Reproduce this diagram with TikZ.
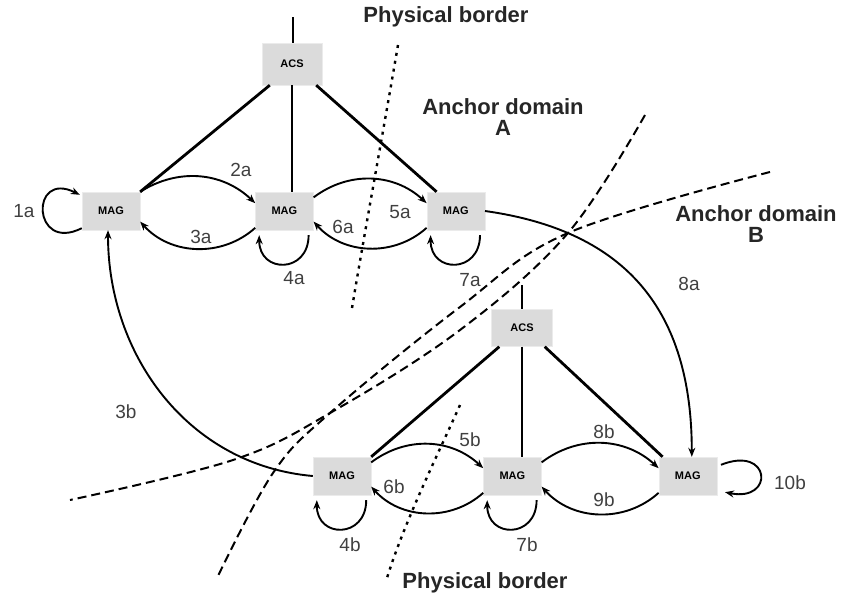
\documentclass[tikz,border=0pt]{standalone}
\usepackage{fontspec}
\setmainfont{Liberation Sans}
\usetikzlibrary{positioning, arrows.meta}

\begin{document}
\begin{tikzpicture}[x=1pt, y=1pt,
    box/.style={fill=black!14, draw=black!8, minimum width=58pt, minimum height=38pt, inner sep=0pt, font=\fontsize{11}{11}\selectfont\bfseries},
    link/.style={line width=2.8pt},
    msg/.style={line width=1.9pt, -{Stealth[length=9pt,width=7pt]}},
    lbl/.style={font=\fontsize{19}{19}\selectfont, text=black!75, inner sep=0pt},
    heading/.style={font=\fontsize{22}{21}\selectfont\bfseries, align=center, text=black!85, inner sep=0pt},
    zone/.style={line width=2pt, dash pattern=on 9pt off 5pt},
    pborder/.style={line width=2.4pt, dash pattern=on 3pt off 5pt}]
    \useasboundingbox (0,0) rectangle (841,-600);

    \node [box, minimum width=60pt, minimum height=42pt] (acs1) at (292,-64) {ACS};
    \node [box] (mag1) at (111,-211) {MAG};
    \node [box, right=115pt of mag1] (mag2) {MAG};
    \node [box, right=113pt of mag2] (mag3) {MAG};

    \node [box, minimum width=61pt, minimum height=37pt] (acs2) at (522,-328) {ACS};
    \node [box] (mag4) at (342,-476) {MAG};
    \node [box, right=112pt of mag4] (mag5) {MAG};
    \node [box, right=117pt of mag5] (mag6) {MAG};

    \coordinate (top1) at (293,-17);
    \coordinate (top2) at (522,-285);

    \draw [link] (top1) -- (top1 |- acs1.north);
    \draw [link] ([xshift=8pt]acs1.south west) -- (mag1.north east);
    \draw [link] (acs1.south) -- (acs1.south |- mag2.north);
    \draw [link] ([xshift=-6pt]acs1.south east) -- ([xshift=10pt]mag3.north west);

    \draw [link] (top2) -- (acs2.north);
    \draw [link] ([xshift=8pt]acs2.south west) -- (mag4.north east);
    \draw [link] (acs2.south) -- (acs2.south |- mag5.north);
    \draw [link] ([xshift=-8pt]acs2.south east) -- ([xshift=4pt]mag6.north west);

    \draw [zone] plot [smooth, tension=0.6] coordinates {(645,-115) (568,-233) (460,-330) (330,-413) (233,-460) (70,-500)};
    \draw [zone] plot [smooth, tension=0.6] coordinates {(770,-172) (568,-233) (460,-307) (330,-413) (273,-473) (217,-578)};
    \draw [pborder] (398,-45) .. controls (380,-150) and (365,-230) .. (352,-308);
    \draw [pborder] (460,-405) .. controls (440,-450) and (405,-520) .. (387,-578);

    \draw [msg] ([yshift=2pt]mag1.south west) .. controls +(-50,-25) and +(-50,25) .. ([shift={(-2pt,-3pt)}]mag1.north west);
    \draw [msg] (mag1.north east) to [bend left=38] (mag2.165);
    \draw [msg] (mag2.210) to [bend left=45] (mag1.-20);
    \draw [msg] ([shift={(-5pt,-5pt)}]mag2.south east) to [out=-90, in=-90, looseness=2] ([shift={(4pt,-5pt)}]mag2.south west);
    \draw [msg] (mag2.25) to [bend left=40] (mag3.165);
    \draw [msg] (mag3.210) to [bend left=45] (mag2.-20);
    \draw [msg] ([shift={(-5pt,-5pt)}]mag3.south east) to [out=-90, in=-90, looseness=2] ([shift={(4pt,-5pt)}]mag3.south west);
    \draw [msg] (mag3.east) to [out=-8, in=90, looseness=1.15] ([xshift=4pt]mag6.north);
    \draw [msg] (mag4.west) to [out=175, in=-90, looseness=1.0] ([xshift=-3pt]mag1.south);
    \draw [msg] ([shift={(-5pt,-5pt)}]mag4.south east) to [out=-90, in=-90, looseness=2] ([shift={(4pt,-5pt)}]mag4.south west);
    \draw [msg] (mag4.25) to [bend left=40] (mag5.165);
    \draw [msg] (mag5.210) to [bend left=45] (mag4.-20);
    \draw [msg] ([shift={(-5pt,-5pt)}]mag5.south east) to [out=-90, in=-90, looseness=2] ([shift={(4pt,-5pt)}]mag5.south west);
    \draw [msg] (mag5.25) to [bend left=40] (mag6.165);
    \draw [msg] (mag6.210) to [bend left=45] (mag5.-20);
    \draw [msg] ([shift={(4pt,-8pt)}]mag6.north east) .. controls +(50,20) and +(50,-10) .. ([shift={(8pt,3pt)}]mag6.south east);

    \node [lbl] (l1a) at (24,-211) {1a};
    \node [lbl] (l2a) at (241,-170) {2a};
    \node [lbl] (l3a) at (201,-237) {3a};
    \node [lbl] (l4a) at (294,-278) {4a};
    \node [lbl] (l5a) at (400,-212) {5a};
    \node [lbl] (l6a) at (343,-227) {6a};
    \node [lbl] (l7a) at (470,-280) {7a};
    \node [lbl] (l8a) at (689,-284) {8a};
    \node [lbl] (l3b) at (126,-412) {3b};
    \node [lbl] (l4b) at (350,-545) {4b};
    \node [lbl] (l5b) at (470,-440) {5b};
    \node [lbl] (l6b) at (394,-487) {6b};
    \node [lbl] (l7b) at (527,-545) {7b};
    \node [lbl] (l8b) at (604,-432) {8b};
    \node [lbl] (l9b) at (604,-500) {9b};
    \node [lbl] (l10b) at (790,-483) {10b};

    \node [heading] (pb1) at (446,-17) {Physical border};
    \node [heading] (doma) at (503,-117) {Anchor domain\\A};
    \node [heading] (domb) at (756,-224) {Anchor domain\\B};
    \node [heading] (pb2) at (485,-583) {Physical border};
\end{tikzpicture}
\end{document}
